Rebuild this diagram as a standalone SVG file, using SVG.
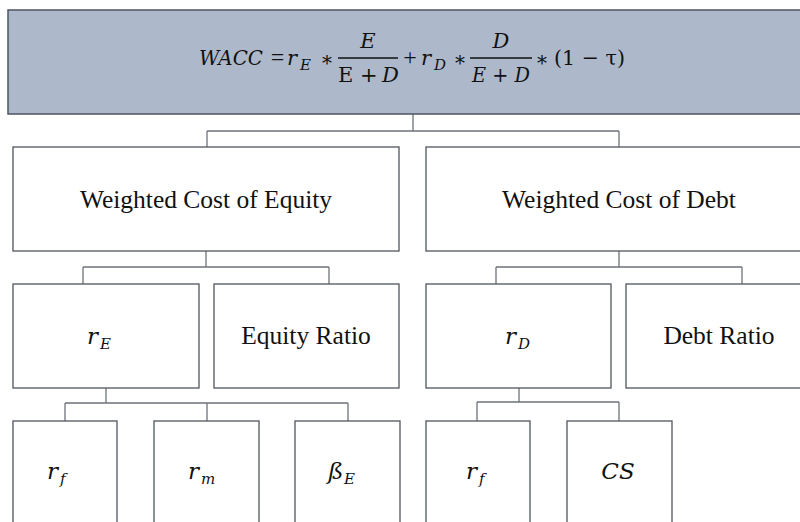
<svg xmlns="http://www.w3.org/2000/svg" width="800" height="522" viewBox="0 0 800 522">
<style>
.box{fill:#ffffff;stroke:#50565f;stroke-width:1.3}
.top{fill:#adb9ca;stroke:#4d5562;stroke-width:1.5}
.con{fill:none;stroke:#6e737b;stroke-width:1.3}
.lbl{font-family:"Liberation Serif","Times New Roman",serif;font-size:25.5px;fill:#111;text-anchor:middle}
.m{font-family:"DejaVu Serif",serif;font-size:21px;fill:#111;font-style:italic}
.mu{font-family:"DejaVu Serif",serif;font-size:21px;fill:#111}
.opr{font-family:"Liberation Serif","Times New Roman",serif;font-size:24px;fill:#111;text-anchor:middle}
.sub{font-family:"DejaVu Serif",serif;font-size:15px;fill:#111;font-style:italic}
.ast{font-family:"DejaVu Serif",serif;font-size:20px;fill:#111;text-anchor:middle}
.mv{font-family:"DejaVu Serif",serif;font-size:23px;fill:#111;font-style:italic}
.sv{font-family:"DejaVu Serif",serif;font-size:15px;fill:#111;font-style:italic}
</style>
<rect width="800" height="522" fill="#ffffff"/>
<g id="connectors">
<path class="con" d="M413 114V131M207 131H619M207 131V147M619 131V147"/>
<path class="con" d="M206 251V267M83 267H329M83 267V284M329 267V284"/>
<path class="con" d="M619 251V267M496 267H742M496 267V284M742 267V284"/>
<path class="con" d="M106 388V403M65 403H348M65 403V421M207 403V421M348 403V421"/>
<path class="con" d="M519 388V402M477 402H619M477 402V421M619 402V421"/>
</g>
<g id="wacc">
<rect class="top" x="8" y="10" width="812" height="104"/>
<text class="m" x="199" y="65" textLength="64" lengthAdjust="spacingAndGlyphs">WACC</text>
<text class="opr" x="277.5" y="65">=</text>
<text class="m" x="287" y="65">r</text>
<text class="sub" x="300" y="70">E</text>
<text class="ast" x="327" y="70">*</text>
<text class="m" x="368" y="48" text-anchor="middle">E</text>
<line x1="338" y1="58" x2="398" y2="58" stroke="#111" stroke-width="1.6"/>
<text class="mu" x="338" y="82">E +</text>
<text class="m" x="382" y="82">D</text>
<text class="opr" x="410" y="65">+</text>
<text class="m" x="421" y="65">r</text>
<text class="sub" x="434" y="70">D</text>
<text class="ast" x="460" y="70">*</text>
<text class="m" x="501" y="48" text-anchor="middle">D</text>
<line x1="470" y1="58" x2="532" y2="58" stroke="#111" stroke-width="1.6"/>
<text class="m" x="472" y="82" textLength="58" lengthAdjust="spacingAndGlyphs">E + D</text>
<text class="ast" x="542" y="70">*</text>
<text class="mu" x="554" y="65" textLength="71" lengthAdjust="spacingAndGlyphs">(1 − τ)</text>
</g>
<g id="equity">
<rect class="box" x="13" y="147" width="386" height="104"/>
<text class="lbl" x="206" y="208">Weighted Cost of Equity</text>
</g>
<g id="debt">
<rect class="box" x="426" y="147" width="386" height="104"/>
<text class="lbl" x="619" y="208">Weighted Cost of Debt</text>
</g>
<g id="rE">
<rect class="box" x="13" y="284" width="186" height="104"/>
<text class="mv" x="87" y="344">r</text>
<text class="sv" x="100" y="349">E</text>
</g>
<g id="equityRatio">
<rect class="box" x="214" y="284" width="185" height="104"/>
<text class="lbl" x="306" y="344">Equity Ratio</text>
</g>
<g id="rD">
<rect class="box" x="426" y="284" width="185" height="104"/>
<text class="mv" x="505" y="344">r</text>
<text class="sv" x="518" y="349">D</text>
</g>
<g id="debtRatio">
<rect class="box" x="626" y="284" width="186" height="104"/>
<text class="lbl" x="719" y="344">Debt Ratio</text>
</g>
<g id="rf1">
<rect class="box" x="13" y="421" width="104" height="120"/>
<text class="mv" x="47" y="479">r</text>
<text class="sv" x="60" y="484">f</text>
</g>
<g id="rm">
<rect class="box" x="154" y="421" width="105" height="120"/>
<text class="mv" x="188" y="479">r</text>
<text class="sv" x="201" y="484">m</text>
</g>
<g id="betaE">
<rect class="box" x="295" y="421" width="105" height="120"/>
<text class="mv" x="328" y="479">ß</text>
<text class="sv" x="344" y="484">E</text>
</g>
<g id="rf2">
<rect class="box" x="426" y="421" width="104" height="120"/>
<text class="mv" x="466" y="479">r</text>
<text class="sv" x="479" y="484">f</text>
</g>
<g id="cs">
<rect class="box" x="567" y="421" width="105" height="120"/>
<text class="mv" x="618" y="479" text-anchor="middle">CS</text>
</g>
</svg>
